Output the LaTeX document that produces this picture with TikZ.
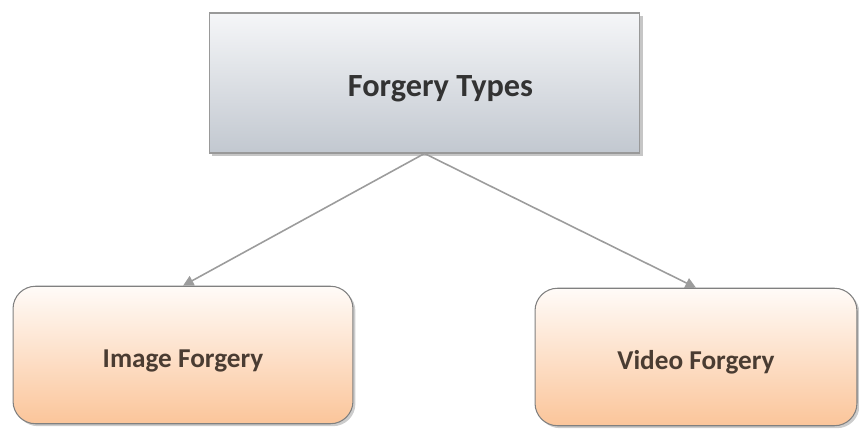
\documentclass[tikz,border=0pt]{standalone}
\usepackage{fontspec}
\setmainfont{Carlito}
\usetikzlibrary{arrows.meta,shadows}

\definecolor{boxtop}{HTML}{F5F6F8}
\definecolor{boxbot}{HTML}{C2C8D0}
\definecolor{leaftop}{HTML}{FFFBF8}
\definecolor{leafbot}{HTML}{FBC59A}
\definecolor{linegray}{HTML}{9C9C9C}
\definecolor{leaftext}{HTML}{4A3C32}

\tikzset{
  rootbox/.style={draw=black!40, line width=0.6pt, top color=boxtop, bottom color=boxbot,
    minimum width=8.62cm, minimum height=2.8cm, font=\fontsize{18.4}{22}\selectfont\bfseries,
    text height=0.68cm, text depth=0.12cm,
    text=black!80, drop shadow={shadow xshift=1.6pt, shadow yshift=-1.6pt, opacity=0.45}},
  leafbox/.style={draw=black!50, line width=0.6pt, rounded corners=0.45cm, top color=leaftop,
    bottom color=leafbot, minimum height=2.75cm, font=\fontsize{15.5}{18}\selectfont\bfseries,
    text height=0.62cm, text depth=0.1cm,
    text=leaftext, drop shadow={shadow xshift=1.4pt, shadow yshift=-1.4pt, opacity=0.4}},
  link/.style={draw=linegray, line width=0.9pt, -{Triangle[length=6pt,width=6pt]}}
}

\begin{document}
\begin{tikzpicture}[x=0.02cm, y=-0.02cm]
\useasboundingbox (0,0) rectangle (859,431);
\node [rootbox] (types) at (424.5, 83) {\hspace*{0.64cm}Forgery Types};
\node [leafbox, minimum width=6.8cm] (image) at (183, 355) {Image Forgery};
\node [leafbox, minimum width=6.44cm] (video) at (696, 357) {Video Forgery};
\draw [link] (types.south) -- (image.north);
\draw [link] (types.south) -- (video.north);
\end{tikzpicture}
\end{document}
